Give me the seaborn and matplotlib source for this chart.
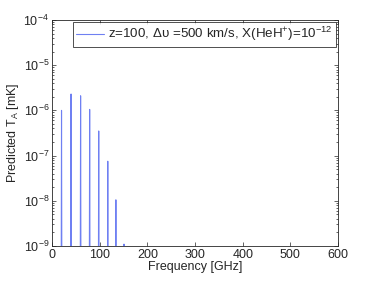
import pandas as pd
import matplotlib
matplotlib.use("Agg")
import matplotlib.pyplot as plt
import seaborn as sns

#=============================================================================
# Data: HeH+ rotational lines redshifted to z=100
#=============================================================================
line_freq_ghz = [20, 40, 60, 79, 98, 117, 134, 151]
peak_ta_mk = [1.0e-6, 2.3e-6, 2.1e-6, 1.05e-6, 3.5e-7, 7.5e-8, 1.05e-8, 1.1e-9]
floor_ta = 1e-12      # baseline far below the axis
half_width = 1.1      # GHz, half width of each spike
legend_label = r"z=100, Δυ =500 km/s, X(HeH$^{+}$)=10$^{-12}$"

# build one continuous spectrum: baseline - peak - baseline for each line
xs, ys = [], []
for f, h in zip(line_freq_ghz, peak_ta_mk):
    xs += [f - half_width, f, f + half_width]
    ys += [floor_ta, h, floor_ta]
df = pd.DataFrame({"freq": xs, "ta": ys})

#=============================================================================
# Plot
#=============================================================================
sns.set_style("ticks")
plt.rcParams["font.family"] = ["Liberation Sans", "DejaVu Sans"]
plt.rcParams["mathtext.fontset"] = "custom"
plt.rcParams["mathtext.rm"] = "Liberation Sans"
plt.rcParams["mathtext.it"] = "Liberation Sans"
plt.rcParams["xtick.direction"] = "in"
plt.rcParams["ytick.direction"] = "in"
plt.rcParams["xtick.top"] = True
plt.rcParams["ytick.right"] = True

fig = plt.figure(figsize=(3.74, 2.81), dpi=100)
ax = fig.add_axes([0.139, 0.1246, 0.765, 0.8044])

sns.lineplot(data=df, x="freq", y="ta", sort=False, estimator=None,
             color="#6f80f2", lw=0.8, label=legend_label, ax=ax)

ax.set_yscale("log")
ax.set_xlim(0, 600)
ax.set_ylim(1e-9, 1e-4)
ax.set_xticks([0, 100, 200, 300, 400, 500, 600])
ax.set_xlabel("Frequency [GHz]", fontsize=9, labelpad=0)
ax.set_ylabel("Predicted T$_{A}$ [mK]", fontsize=9, labelpad=2)
ax.tick_params(labelsize=9, length=3, width=0.5, pad=2)
ax.tick_params(which="minor", length=1.5, width=0.5)
for sp in ax.spines.values():
    sp.set_linewidth(0.6)

leg = ax.legend(loc="upper right", fontsize=9.6, frameon=True, fancybox=False,
                edgecolor="black", borderaxespad=0.15, handlelength=2.1,
                borderpad=0.25, handletextpad=0.3)
leg.get_frame().set_linewidth(0.6)

plt.savefig("out.png", dpi=100, facecolor="white")
